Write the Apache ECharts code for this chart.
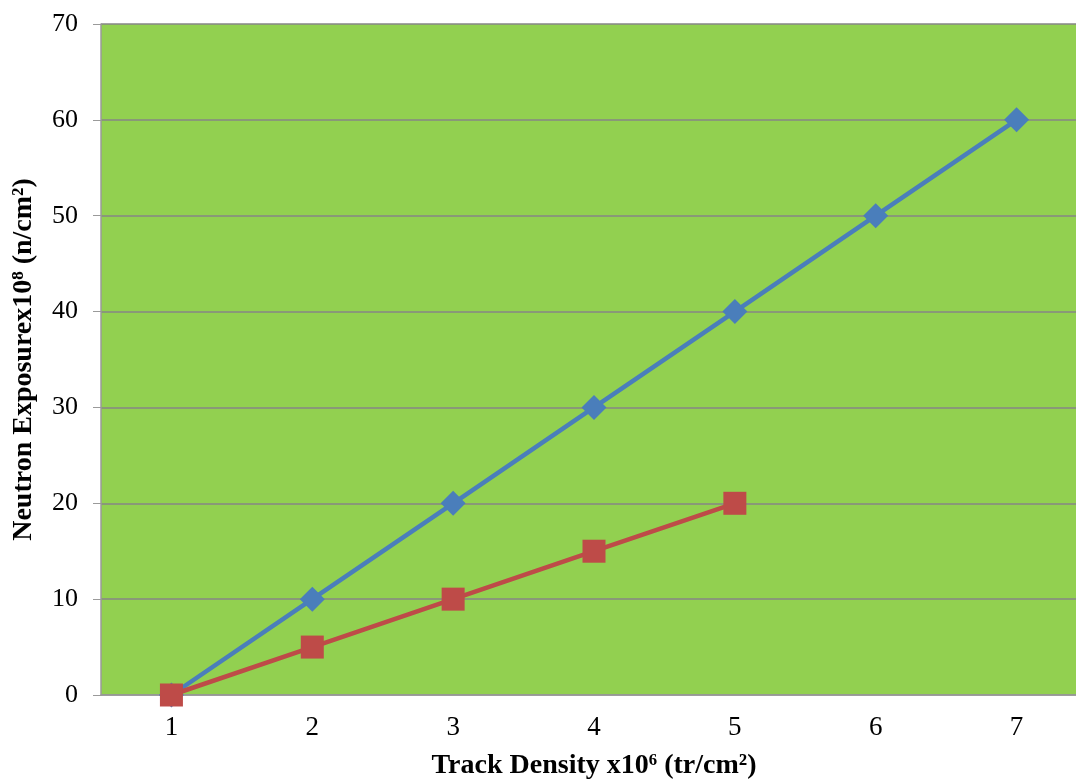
<!DOCTYPE html>
<html><head><meta charset="utf-8">
<script src="https://cdn.jsdelivr.net/npm/echarts@6/dist/echarts.min.js"></script>
<style>html,body{margin:0;padding:0;background:#fff}#c{width:1076px;height:781px}</style>
</head><body><div id="c"></div>
<script>
const categories = ['1','2','3','4','5','6','7'];
const seriesBlue = [0,10,20,30,40,50,60];
const seriesRed = [0,5,10,15,20];
const yTicks = {min:0, max:70, interval:10};
const xTitle = 'Track Density x10\u2076 (tr/cm\u00B2)';
const yTitle = 'Neutron Exposurex10\u2078 (n/cm\u00B2)';

const chart = echarts.init(document.getElementById('c'));
const font = 'Liberation Serif, Times New Roman, serif';
chart.setOption({
  animation:false,
  backgroundColor:'#fff',
  grid:{left:101, top:24, width:986, height:671, backgroundColor:'#92D050', show:true, borderWidth:0,
        containLabel:false, outerBoundsMode:'none'},
  xAxis:{type:'category', data:categories, boundaryGap:true,
    axisLine:{show:true, lineStyle:{color:'#9a9a9a', width:1.5}},
    axisTick:{show:false},
    axisLabel:{color:'#000', fontFamily:font, fontSize:27, margin:19},
    name:xTitle, nameLocation:'middle', nameGap:57,
    nameTextStyle:{color:'#000', fontFamily:font, fontSize:28, fontWeight:'bold'}
  },
  yAxis:{type:'value', min:yTicks.min, max:yTicks.max, interval:yTicks.interval,
    axisLine:{show:true, lineStyle:{color:'#9a9a9a', width:1.5}},
    axisTick:{show:true, length:8, lineStyle:{color:'#9a9a9a'}},
    splitLine:{show:true, lineStyle:{color:'#868686', width:1.5}},
    axisLabel:{color:'#000', fontFamily:font, fontSize:26, margin:23},
    name:yTitle, nameLocation:'middle', nameGap:63, nameRotate:90,
    nameTextStyle:{color:'#000', fontFamily:font, fontSize:28, fontWeight:'bold'}
  },
  series:[
    {type:'line', data:seriesBlue, symbol:'diamond', symbolSize:25,
     lineStyle:{color:'#4A7EBB', width:4.5}, itemStyle:{color:'#4A7EBB'}, z:2},
    {type:'line', data:seriesRed, symbol:'rect', symbolSize:23,
     lineStyle:{color:'#BE4B48', width:4.5}, itemStyle:{color:'#BE4B48'}, z:3}
  ]
});
</script></body></html>
